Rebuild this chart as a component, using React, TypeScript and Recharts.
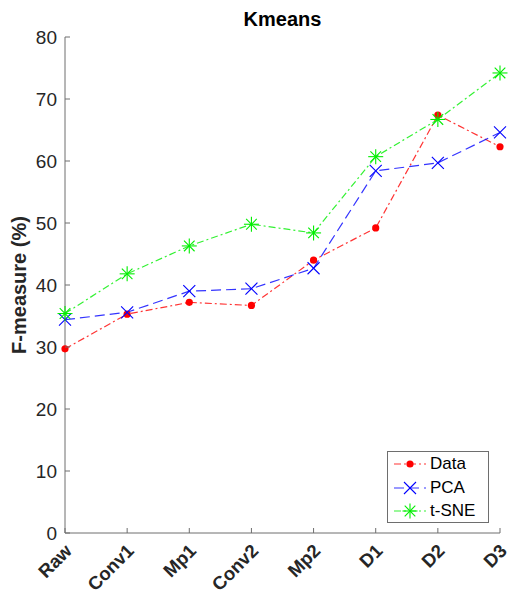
import React from 'react';
import { LineChart, Line, XAxis, YAxis } from 'recharts';

const categories = ['Raw', 'Conv1', 'Mp1', 'Conv2', 'Mp2', 'D1', 'D2', 'D3'];
const dataValues = [29.7, 35.3, 37.2, 36.7, 44.0, 49.2, 67.4, 62.3];
const pcaValues = [34.4, 35.6, 39.0, 39.4, 42.7, 58.4, 59.7, 64.6];
const tsneValues = [35.4, 41.8, 46.3, 49.8, 48.4, 60.7, 66.7, 74.2];
const yTicks = [0, 10, 20, 30, 40, 50, 60, 70, 80];

const rows = categories.map((name, i) => ({
  name,
  data: dataValues[i],
  pca: pcaValues[i],
  tsne: tsneValues[i],
}));

const FONT = '"Liberation Sans", Arial, Helvetica, sans-serif';
const AXIS = '#6e6e6e';
const TEXT = '#262626';

type MarkerKind = 'dot' | 'x' | 'star';

const Marker = ({ cx, cy, kind, color }: { cx: number; cy: number; kind: MarkerKind; color: string }) => {
  if (cx == null || cy == null) return null;
  if (kind === 'dot') return <circle cx={cx} cy={cy} r={3.6} fill={color} stroke="none" />;
  const s = kind === 'x' ? 6 : 7.5;
  const d = kind === 'x' ? 6 : 5.3;
  return (
    <g stroke={color} strokeWidth={1.1} fill="none">
      <line x1={cx - d} y1={cy - d} x2={cx + d} y2={cy + d} />
      <line x1={cx - d} y1={cy + d} x2={cx + d} y2={cy - d} />
      {kind === 'star' && (
        <>
          <line x1={cx} y1={cy - s} x2={cx} y2={cy + s} />
          <line x1={cx - s} y1={cy} x2={cx + s} y2={cy} />
        </>
      )}
    </g>
  );
};

const series = [
  { key: 'data', name: 'Data', color: '#ff0000', dash: '7 3 2 3', kind: 'dot' as MarkerKind },
  { key: 'pca', name: 'PCA', color: '#0000ff', dash: '10 5', kind: 'x' as MarkerKind },
  { key: 'tsne', name: 't-SNE', color: '#00ee00', dash: '7 3 2 3', kind: 'star' as MarkerKind },
];

const XTick = (props: any) => {
  const { x, y, payload } = props;
  return (
    <g>
      <line x1={x} y1={y} x2={x} y2={y - 5} stroke={AXIS} />
      <text
        x={0}
        y={0}
        transform={`translate(${x + 8},${y + 19}) rotate(-45)`}
        textAnchor="end"
        fontSize={18.5}
        fontWeight="bold"
        fontFamily={FONT}
        fill={TEXT}
      >
        {payload.value}
      </text>
    </g>
  );
};

const YTick = (props: any) => {
  const { x, y, payload } = props;
  return (
    <g>
      <line x1={x} y1={y} x2={x + 5} y2={y} stroke={AXIS} />
      <text x={x - 8} y={y} dy="0.36em" textAnchor="end" fontSize={19} fontFamily={FONT} fill={TEXT}>
        {payload.value}
      </text>
    </g>
  );
};

export default function App() {
  return (
    <div style={{ position: 'absolute', left: 0, top: 0, width: 511, height: 597, background: '#fff' }}>
      <div
        style={{
          position: 'absolute',
          left: 65,
          width: 435,
          top: 8,
          textAlign: 'center',
          fontFamily: FONT,
          fontWeight: 'bold',
          fontSize: 20,
          color: '#000',
        }}
      >
        Kmeans
      </div>
      <LineChart width={511} height={597} data={rows} margin={{ top: 37, right: 11, bottom: 0, left: 0 }}>
        <XAxis
          dataKey="name"
          height={64}
          interval={0}
          tickSize={0}
          tickMargin={0}
          tickLine={false}
          axisLine={{ stroke: AXIS }}
          tick={<XTick />}
        />
        <YAxis
          width={65}
          domain={[0, 80]}
          ticks={yTicks}
          tickSize={0}
          tickMargin={0}
          tickLine={false}
          axisLine={{ stroke: AXIS }}
          tick={<YTick />}
          label={({ viewBox }: any) => (
            <text
              transform={`translate(26,${viewBox.y + viewBox.height / 2}) rotate(-90)`}
              textAnchor="middle"
              fontSize={20}
              fontWeight="bold"
              fontFamily={FONT}
              fill={TEXT}
            >
              F-measure (%)
            </text>
          )}
        />
        {series.map((s) => (
          <Line
            key={s.key}
            dataKey={s.key}
            name={s.name}
            type="linear"
            stroke={s.color}
            strokeOpacity={0.8}
            strokeWidth={1.2}
            strokeDasharray={s.dash}
            isAnimationActive={false}
            dot={(p: any) => <Marker key={`${s.key}-${p.index}`} cx={p.cx} cy={p.cy} kind={s.kind} color={s.color} />}
            activeDot={false}
          />
        ))}
      </LineChart>
      <div
        style={{
          position: 'absolute',
          left: 387,
          top: 451,
          width: 102,
          height: 72,
          border: `1px solid ${AXIS}`,
          background: '#fff',
          fontFamily: FONT,
          fontSize: 17,
          color: '#000',
          boxSizing: 'border-box',
        }}
      >
        {series.map((s, i) => (
          <div
            key={s.key}
            style={{ position: 'absolute', left: 5, top: 1 + i * 23.5, height: 22, display: 'flex', alignItems: 'center' }}
          >
            <svg width={34} height={22}>
              <line x1={1} y1={11} x2={33} y2={11} stroke={s.color} strokeOpacity={0.8} strokeWidth={1.2} strokeDasharray={s.dash} />
              <Marker cx={17} cy={11} kind={s.kind} color={s.color} />
            </svg>
            <span style={{ marginLeft: 3 }}>{s.name}</span>
          </div>
        ))}
      </div>
    </div>
  );
}
